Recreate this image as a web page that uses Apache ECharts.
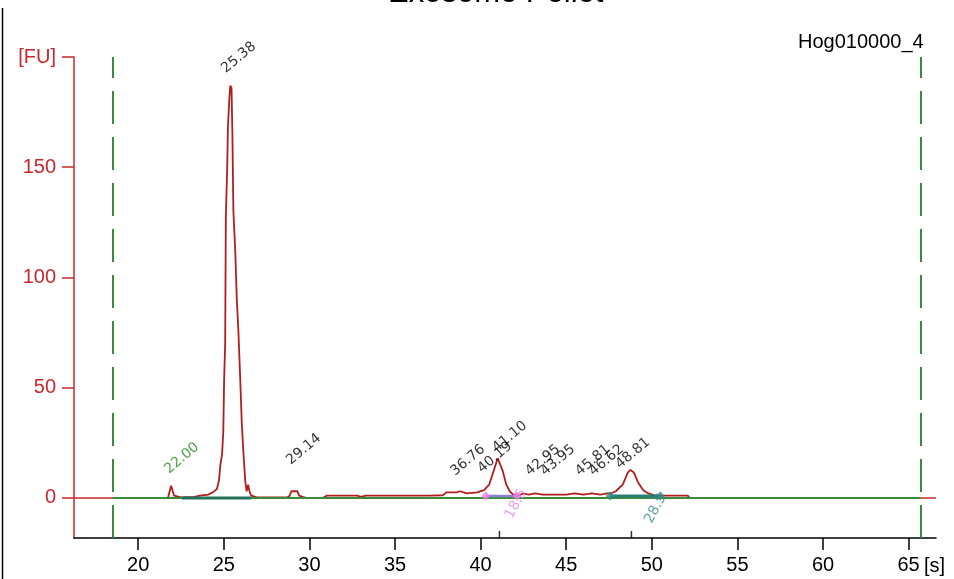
<!DOCTYPE html>
<html>
<head>
<meta charset="utf-8">
<title>Exosome Pellet</title>
<script src="https://cdn.jsdelivr.net/npm/echarts@6/dist/echarts.min.js"></script>
<style>
  html, body { margin: 0; padding: 0; background: #fff; }
  #chart { width: 954px; height: 579px; }
</style>
</head>
<body>
<div id="chart"></div>
<script>
// axis ranges and tick labels
var xRange = [16.25, 66.6]
var yRange = [-18.2, 200]
var xTicks = [20, 25, 30, 35, 40, 45, 50, 55, 60, 65]
var yTicks = [0, 50, 100, 150, 200]

// electropherogram trace [time s, FU]
var trace = [
  [21.75, 0.3], [21.85, 1], [21.92, 5.5], [22.02, 5.5], [22.1, 1], [22.2, 0.4], [22.5, 0.2],
  [23.3, 0.5], [23.6, 1], [24.1, 1.5], [24.35, 2.5], [24.6, 4], [24.72, 8], [24.8, 15],
  [24.9, 20], [24.97, 30], [25.02, 54], [25.08, 70], [25.12, 128], [25.2, 150], [25.24, 168],
  [25.33, 182], [25.38, 187], [25.45, 186], [25.5, 166], [25.56, 130], [25.67, 112], [25.76, 90],
  [25.85, 76], [25.95, 56], [26.05, 34], [26.15, 20], [26.25, 8], [26.33, 3], [26.42, 6],
  [26.5, 3], [26.6, 1], [26.9, 0.3],
  [28.7, 0.2], [28.85, 1], [28.95, 3], [29.3, 3], [29.4, 1], [29.6, 0.5], [29.8, 0],
  [30.8, 0], [31.0, 1], [31.9, 1], [32.0, 0.3], [32.2, 1], [32.8, 1], [33.0, 0.5], [33.3, 1],
  [35.0, 1], [37.0, 1], [37.8, 1.2], [38.0, 2.5], [38.6, 2.5], [38.8, 3], [39.2, 2], [39.8, 2.5],
  [40.2, 3.5], [40.5, 6], [40.75, 12], [41.0, 18], [41.1, 17.5], [41.3, 12], [41.5, 6], [41.7, 3],
  [41.9, 1.5], [42.2, 1], [42.5, 2], [42.8, 1.5], [43.2, 2], [43.6, 1.5], [44.2, 1.5], [45.0, 1.5],
  [45.5, 2], [46.0, 1.5], [46.5, 2], [47.0, 1.5], [47.4, 2], [47.6, 2], [47.9, 3], [48.3, 6],
  [48.6, 11.5], [48.75, 12.7], [48.95, 11.5], [49.2, 7], [49.5, 3.5], [49.8, 2], [50.2, 1],
  [50.6, 1], [51.0, 1], [52.1, 1], [52.2, 0]
]

// time window (green dashed) and baseline
var windowLimits = [18.54, 65.7]

// peak baselines [start, end]
var mainPeakBase = [22.55, 26.6]
var pinkBase = [40.3, 42.13]
var tealBase = [47.57, 50.49]

// peak labels [time, FU, text]
var peakLabels = [
  [25.02, 190, '25.38'],
  [28.82, 12.3, '29.14'],
  [38.4, 7.3, '36.76'],
  [39.98, 8.6, '40.19'],
  [40.85, 18, '41.10'],
  [42.78, 7.3, '42.95'],
  [43.66, 7.3, '43.95'],
  [45.7, 7.3, '45.81'],
  [46.5, 7.3, '46.62'],
  [48.04, 10.5, '48.81']
]
var markerLabel = [[21.7, 8.2, '22.00']]
var pinkLabel = [[42.13, 0, '18.5']]
var tealLabel = [[50.49, 0, '28.5']]
var peakTicks = [41.1, 48.81]

var red = '#c8282d'
var traceRed = '#b01e1e'
var green = '#3a8c3a'
var font = 'Liberation Sans'

var chart = echarts.init(document.getElementById('chart'))

function seg(r, y) {
  return [[r[0], y], [r[1], y]]
}

function labelSeries(data, color, rotate, align, offset) {
  return {
    type: 'scatter',
    symbolSize: 0,
    silent: true,
    z: 10,
    data: data.map(function(d) { return { value: [d[0], d[1]], name: d[2] } }),
    label: {
      show: true,
      position: [0, 0],
      formatter: function(p) { return p.name },
      rotate: rotate,
      align: align,
      verticalAlign: 'bottom',
      offset: offset || [0, 0],
      color: color,
      fontFamily: 'DejaVu Sans',
      fontSize: 14
    }
  }
}

var option = {
  backgroundColor: '#fff',
  animation: false,
  title: {
    text: 'Exosome Pellet',
    left: 383,
    top: -27,
    textStyle: { color: '#000', fontSize: 31, fontWeight: 'normal', fontFamily: font }
  },
  grid: { left: 74, right: 18, top: 57, bottom: 41 },
  graphic: [
    { type: 'line', shape: { x1: 2.5, y1: 8, x2: 2.5, y2: 579 }, style: { stroke: '#000', lineWidth: 1.5 } },
    { type: 'text', left: 798, top: 32, style: { text: 'Hog010000_4', fill: '#000', font: '20px ' + font } },
    { type: 'text', left: 924, top: 556, style: { text: '[s]', fill: '#000', font: '20px ' + font } }
  ],
  xAxis: {
    type: 'value',
    min: xRange[0],
    max: xRange[1],
    splitLine: { show: false },
    axisLine: { onZero: false, lineStyle: { color: '#000', width: 1.5 } },
    axisTick: { customValues: xTicks, length: 12, lineStyle: { color: '#000', width: 1.5 } },
    axisLabel: { customValues: xTicks, margin: 17, color: '#000', fontSize: 20, fontFamily: font }
  },
  yAxis: {
    type: 'value',
    min: yRange[0],
    max: yRange[1],
    splitLine: { show: false },
    axisLine: { onZero: false, lineStyle: { color: red, width: 1.5 } },
    axisTick: { customValues: yTicks, length: 12, lineStyle: { color: red, width: 1.5 } },
    axisLabel: {
      customValues: yTicks,
      margin: 18,
      color: red,
      fontSize: 20,
      fontFamily: font,
      formatter: function(v) { return v === 200 ? '[FU]' : String(v) }
    }
  },
  series: [
    {
      // red zero line across the whole axis
      type: 'line',
      data: seg(xRange, 0),
      symbol: 'none',
      silent: true,
      lineStyle: { color: red, width: 1.5 },
      z: 1
    },
    {
      // green baseline + dashed window limits
      type: 'line',
      data: seg(windowLimits, 0),
      symbol: 'none',
      silent: true,
      lineStyle: { color: green, width: 2 },
      z: 3,
      markLine: {
        silent: true,
        symbol: 'none',
        label: { show: false },
        lineStyle: { color: green, width: 2, type: [33, 13] },
        data: windowLimits.map(function(t) { return { xAxis: t } })
      }
    },
    {
      type: 'line',
      data: trace,
      symbol: 'none',
      silent: true,
      lineStyle: { color: traceRed, width: 1.8 },
      z: 2
    },
    {
      type: 'line',
      data: seg(mainPeakBase, 0),
      symbol: 'none',
      silent: true,
      lineStyle: { color: '#24735a', width: 3 },
      z: 4
    },
    {
      type: 'line',
      data: seg(pinkBase, 0.8),
      symbol: 'none',
      silent: true,
      lineStyle: { color: '#8f7fd0', width: 2.5 },
      z: 4
    },
    {
      type: 'line',
      data: seg(tealBase, 0.8),
      symbol: 'none',
      silent: true,
      lineStyle: { color: '#287f7a', width: 3 },
      z: 4
    },
    {
      type: 'scatter',
      data: seg(pinkBase, 0.8),
      symbol: 'diamond',
      symbolSize: 9,
      silent: true,
      itemStyle: { color: '#ee7fe8' },
      z: 5
    },
    {
      type: 'scatter',
      data: seg(tealBase, 0.8),
      symbol: 'diamond',
      symbolSize: 9,
      silent: true,
      itemStyle: { color: '#2f8a86' },
      z: 5
    },
    {
      // small peak marks on the time axis
      type: 'scatter',
      data: peakTicks.map(function(t) { return [t, yRange[0]] }),
      symbol: 'rect',
      symbolSize: [1.5, 7],
      symbolOffset: [0, -3.5],
      silent: true,
      itemStyle: { color: '#000' },
      z: 6
    },
    labelSeries(peakLabels, '#000', 40, 'left', [5, 0]),
    labelSeries(markerLabel, '#1e8a1e', 40, 'left', [5, 0]),
    labelSeries(pinkLabel, '#e58ae5', 62, 'right', [10, 9]),
    labelSeries(tealLabel, '#3b8b8b', 62, 'right', [4, 8])
  ]
}

chart.setOption(option)
</script>
</body>
</html>
